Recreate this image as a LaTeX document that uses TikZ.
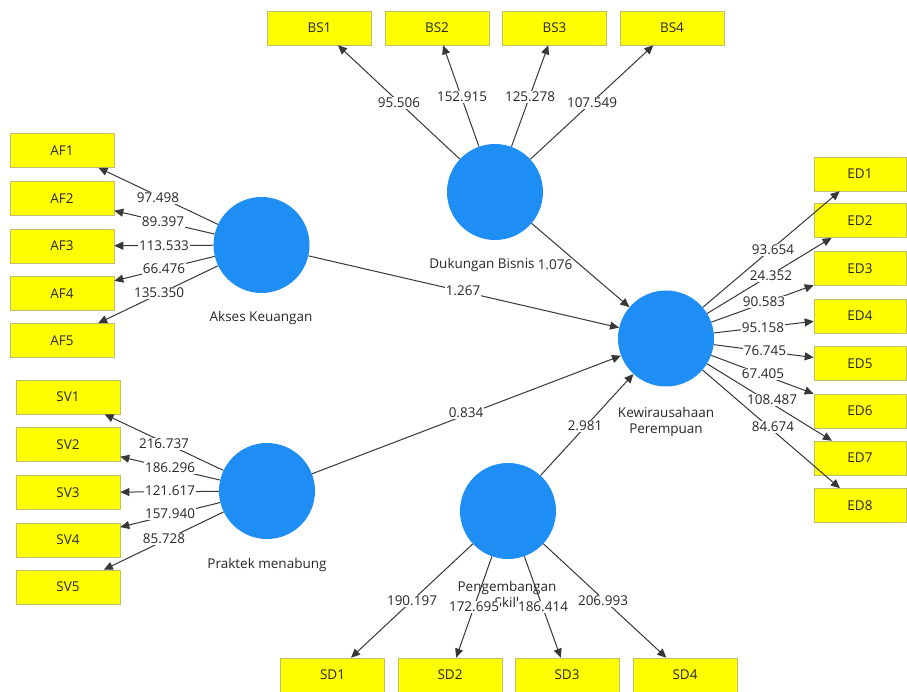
\documentclass[tikz,border=0pt]{standalone}
\usepackage{fontspec}
\setmainfont{Open Sans}
\usetikzlibrary{arrows.meta}
\definecolor{lvblue}{RGB}{30,142,245}
\definecolor{boxyellow}{RGB}{255,255,0}
\definecolor{boxedge}{RGB}{190,190,110}
\definecolor{linegray}{RGB}{55,55,55}
\definecolor{textgray}{RGB}{40,40,40}
\begin{document}
\begin{tikzpicture}[x=1pt,y=-1pt,
  every node/.style={font=\fontsize{13.5}{16}\selectfont, text=textgray},
  ind/.style={draw=boxedge, line width=0.6pt, fill=boxyellow, minimum width=104pt, minimum height=34pt, inner sep=0pt},
  indn/.style={ind, minimum width=92pt},
  lv/.style={circle, fill=lvblue, minimum size=96pt, inner sep=0pt},
  lab/.style={fill=white, inner sep=1pt},
  nlab/.style={inner sep=0pt, align=center},
  conn/.style={draw=linegray, line width=1pt, -{Triangle[length=9pt,width=8pt]}}]
\useasboundingbox (0,0) rectangle (907,692);
\fill[white] (0,0) rectangle (907,692);

% latent variables
\node[lv] (AK) at (261.5,245) {};
\node[lv] (PM) at (267,491) {};
\node[lv] (DB) at (495,192) {};
\node[lv] (KP) at (666,338.5) {};
\node[lv] (PS) at (508,511) {};

% indicators
\node[ind] (AF1) at (62,150.5) {AF1};
\node[ind] (AF2) at (62,198.5) {AF2};
\node[ind] (AF3) at (62,246) {AF3};
\node[ind] (AF4) at (62,293.5) {AF4};
\node[ind] (AF5) at (62,340.5) {AF5};

\node[ind] (SV1) at (68,397) {SV1};
\node[ind] (SV2) at (68,444.5) {SV2};
\node[ind] (SV3) at (68,492.5) {SV3};
\node[ind] (SV4) at (68,540) {SV4};
\node[ind] (SV5) at (68,587) {SV5};

\node[ind] (BS1) at (319.5,28) {BS1};
\node[ind] (BS2) at (437,28) {BS2};
\node[ind] (BS3) at (554.5,28) {BS3};
\node[ind] (BS4) at (672,28) {BS4};

\node[indn] (ED1) at (860,174) {ED1};
\node[indn] (ED2) at (860,220.5) {ED2};
\node[indn] (ED3) at (860,268.5) {ED3};
\node[indn] (ED4) at (860,316) {ED4};
\node[indn] (ED5) at (860,363.5) {ED5};
\node[indn] (ED6) at (860,411) {ED6};
\node[indn] (ED7) at (860,458) {ED7};
\node[indn] (ED8) at (860,505.5) {ED8};

\node[ind] (SD1) at (332.5,675) {SD1};
\node[ind] (SD2) at (450,675) {SD2};
\node[ind] (SD3) at (567,675) {SD3};
\node[ind] (SD4) at (685,675) {SD4};

% connectors
\foreach \i in {1,...,5} {\draw[conn] (AK) -- (AF\i);}
\foreach \i in {1,...,5} {\draw[conn] (PM) -- (SV\i);}
\foreach \i in {1,...,4} {\draw[conn] (DB) -- (BS\i);}
\foreach \i in {1,...,8} {\draw[conn] (KP) -- (ED\i);}
\foreach \i in {1,...,4} {\draw[conn] (PS) -- (SD\i);}
\draw[conn] (AK) -- (KP);
\draw[conn] (PM) -- (KP);
\draw[conn] (DB) -- (KP);
\draw[conn] (PS) -- (KP);

% latent variable names
\node[nlab] (nAK) at (261,318) {Akses Keuangan};
\node[nlab] (nPM) at (267,565) {Praktek menabung};
\node[nlab, fill=white, inner sep=1pt] (nDB) at (482,265) {Dukungan Bisnis};
\node[nlab] (nKP) at (666,422) {Kewirausahaan\\Perempuan};
\node[nlab] (nPS) at (507,594) {Pengembangan\\Skill};

% loadings
\node[lab] (lAF1) at (158,198) {97.498};
\node[lab] (lAF2) at (163,222) {89.397};
\node[lab] (lAF3) at (164,246) {113.533};
\node[lab] (lAF4) at (164,269) {66.476};
\node[lab] (lAF5) at (159,293) {135.350};

\node[lab] (lSV1) at (164,444) {216.737};
\node[lab] (lSV2) at (170,468) {186.296};
\node[lab] (lSV3) at (170,491) {121.617};
\node[lab] (lSV4) at (170,514) {157.940};
\node[lab] (lSV5) at (164,539) {85.728};

\node[lab] (lBS1) at (399,103) {95.506};
\node[lab] (lBS2) at (462,97) {152.915};
\node[lab] (lBS3) at (530,97) {125.278};
\node[lab] (lBS4) at (592,103) {107.549};

\node[lab] (lED1) at (773,250) {93.654};
\node[lab] (lED2) at (771,276) {24.352};
\node[lab] (lED3) at (764,302) {90.583};
\node[lab] (lED4) at (763,328) {95.158};
\node[lab] (lED5) at (765,351) {76.745};
\node[lab] (lED6) at (763,374) {67.405};
\node[lab] (lED7) at (772,400) {108.487};
\node[lab] (lED8) at (773,427) {84.674};

\node[lab] (lSD1) at (412,601) {190.197};
\node[lab] (lSD2) at (474,607) {172.695};
\node[lab] (lSD3) at (543,607) {186.414};
\node[lab] (lSD4) at (603,601) {206.993};

% path coefficients
\node[lab] (pAK) at (463,291) {1.267};
\node[lab] (pPM) at (466,413) {0.834};
\node[lab] (pDB) at (555,265) {1.076};
\node[lab] (pPS) at (585,426) {2.981};
\end{tikzpicture}
\end{document}
